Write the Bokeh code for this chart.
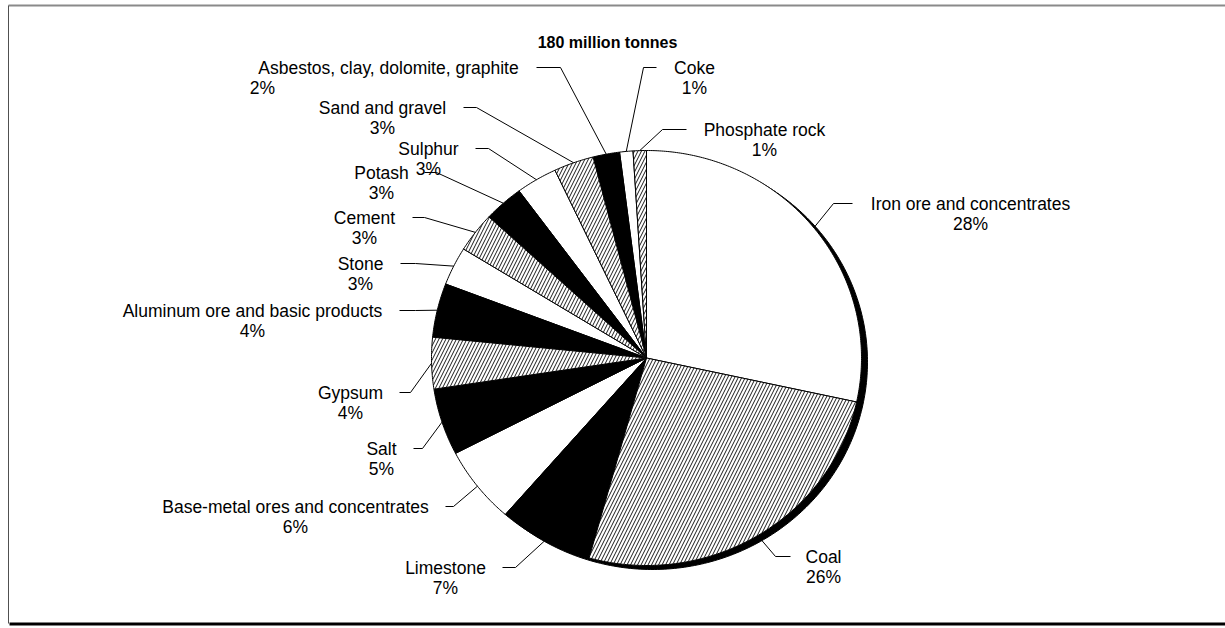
import numpy as np
from bokeh.plotting import figure
from bokeh.models import Range1d, ColumnDataSource
from bokeh.core.properties import value
from bokeh.embed import file_html
from bokeh.resources import INLINE

# Shares of total tonnage (%), clockwise from 12 o'clock
categories = [
    "Iron ore and concentrates", "Coal", "Limestone",
    "Base-metal ores and concentrates", "Salt", "Gypsum",
    "Aluminum ore and basic products", "Stone", "Cement", "Potash",
    "Sulphur", "Sand and gravel", "Asbestos, clay, dolomite, graphite",
    "Coke", "Phosphate rock",
]
shares = [28.4, 25.9, 7.1, 6.0, 5.2, 4.0, 4.2, 3.0, 3.1, 3.0, 3.1, 3.0, 2.0, 1.0, 1.0]
fill_style = ["white", "hatch", "black", "white", "black", "hatch", "black", "white",
              "hatch", "black", "white", "hatch", "black", "white", "hatch"]
title_text = "180 million tonnes"

# Label layout (pixel space): name centre x, percent centre x, first-line y,
# leader end x, leader elbow x
label_x = [970, 823, 445, 295, 381, 350, 252, 360, 364, 381, 428, 382, 388, 694, 764]
pct_x = [970, 823, 445, 295, 381, 350, 252, 360, 364, 381, 428, 382, 262, 694, 764]
label_y = [203, 556, 567, 506, 448, 392, 310, 263, 217, 172, 148, 107, 67, 67, 129]
lead_end_x = [852, 790, 502, 445, 413, 399, 399, 400, 412, 424, 475, 463, 536, 656, 686]
lead_elb_x = [833, 775, 515, 453, 422, 410, 415, 415, 424, 436, 488, 476, 560, 643, 662]

W, H = 1225, 628
CX, CY, RX, RY = 646.0, 357.5, 215.0, 207.5
SHADOW_DX, SHADOW_DY = 6.0, 4.0
FONT = value("Liberation Sans")

p = figure(width=W, height=H, x_range=Range1d(0, W), y_range=Range1d(H, 0),
           x_axis_type=None, y_axis_type=None, toolbar_location=None,
           output_backend="svg", min_border=0, outline_line_color=None,
           background_fill_color="white", border_fill_color="white")
p.grid.visible = False

# outer frame
p.line([8, W], [5, 5], line_color="#8a8a8a", line_width=2)
p.line([8, 8], [5, 623], line_color="#505050", line_width=1)
p.line([9, W], [623.5, 623.5], line_color="black", line_width=3)


def ellipse_pt(theta):
    # theta: radians clockwise from 12 o'clock
    return CX + RX * np.sin(theta), CY - RY * np.cos(theta)


# drop shadow
t = np.linspace(0, 2 * np.pi, 400)
sx, sy = ellipse_pt(t)
p.patch(sx + SHADOW_DX, sy + SHADOW_DY, fill_color="black", line_color="black")

total = float(sum(shares))
bounds = np.concatenate([[0.0], np.cumsum(shares)]) / total * 2 * np.pi

groups = {"white": ([], []), "black": ([], []), "hatch": ([], [])}
mids = []
for i, style in enumerate(fill_style):
    a0, a1 = bounds[i], bounds[i + 1]
    n = max(int((a1 - a0) / (2 * np.pi) * 720), 4)
    tt = np.linspace(a0, a1, n)
    ex, ey = ellipse_pt(tt)
    xs = [CX] + list(ex) + [CX]
    ys = [CY] + list(ey) + [CY]
    groups[style][0].append(xs)
    groups[style][1].append(ys)
    mids.append(0.5 * (a0 + a1))

p.patches(groups["white"][0], groups["white"][1], fill_color="white",
          line_color="black", line_width=1)
p.patches(groups["black"][0], groups["black"][1], fill_color="black",
          line_color="black", line_width=1)
p.patches(groups["hatch"][0], groups["hatch"][1], fill_color="white",
          hatch_pattern="/", hatch_color="black", hatch_scale=7, hatch_weight=0.9,
          line_color="black", line_width=1)

# leader lines
lx, ly = [], []
for i in range(len(categories)):
    px, py = ellipse_pt(mids[i])
    lx.append([px, lead_elb_x[i], lead_end_x[i]])
    ly.append([py, label_y[i], label_y[i]])
p.multi_line(lx, ly, line_color="black", line_width=1)

# labels
pct = [f"{round(s)}%" for s in shares]
src = ColumnDataSource(dict(x=label_x, y=label_y, name=categories, px=pct_x,
                            y2=[y + 20 for y in label_y], pct=pct))
p.text("x", "y", text="name", source=src, text_font=FONT,
       text_font_size=value("17.5px"), text_align="center",
       text_baseline="middle", text_color="black")
p.text("px", "y2", text="pct", source=src, text_font=FONT,
       text_font_size=value("17.5px"), text_align="center",
       text_baseline="middle", text_color="black")

p.text(x=[607], y=[42], text=[title_text], text_font=FONT,
       text_font_size=value("16px"), text_font_style="bold",
       text_align="center", text_baseline="middle", text_color="black")

open("out.html", "w").write(file_html(p, INLINE))
